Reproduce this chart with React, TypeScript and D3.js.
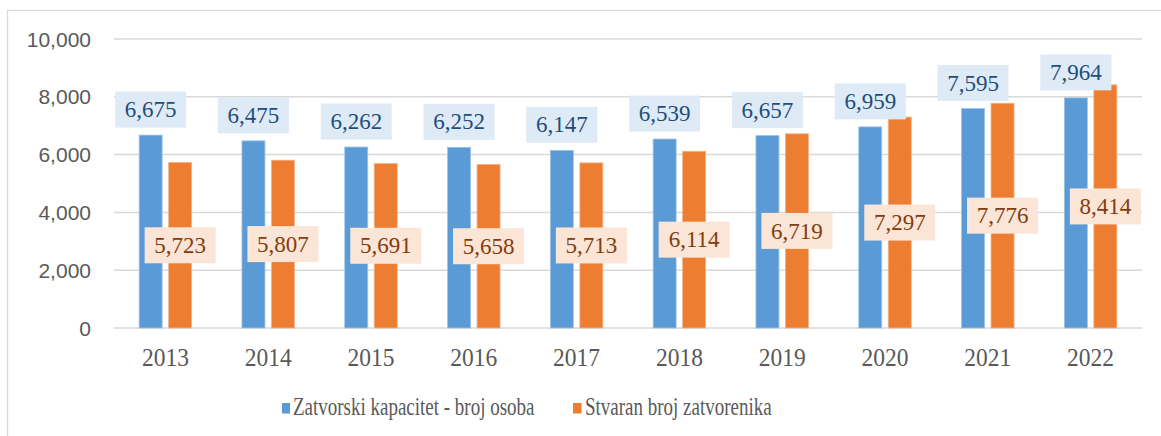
import React from "react";
import * as d3 from "d3";

const years = ["2013", "2014", "2015", "2016", "2017", "2018", "2019", "2020", "2021", "2022"];
const capacity = [6675, 6475, 6262, 6252, 6147, 6539, 6657, 6959, 7595, 7964];
const prisoners = [5723, 5807, 5691, 5658, 5713, 6114, 6719, 7297, 7776, 8414];
const yTicks = [0, 2000, 4000, 6000, 8000, 10000];
const seriesNames = ["Zatvorski kapacitet - broj osoba", "Stvaran broj zatvorenika"];

const W = 1161;
const H = 436;
const left = 114;
const right = 1142;
const top = 39;
const bottom = 328;

export default function App() {
  const x = d3.scaleBand<string>().domain(years).range([left, right]);
  const y = d3.scaleLinear().domain([0, 10000]).range([bottom, top]);
  const barW = 23;
  const gap = 6.5;
  const fmt = d3.format(",");
  const boxW = 71;
  const boxH = 36;
  const blue = "#5B9BD5";
  const orange = "#ED7D31";
  const serif = "'Liberation Serif', 'Times New Roman', serif";

  return (
    <svg
      width={W}
      height={H}
      style={{ position: "absolute", left: 0, top: 0, background: "#fff" }}
    >
      <rect x={7.5} y={10.5} width={1300} height={600} fill="#fff" stroke="#D9D9D9" strokeWidth={1.3} />
      {yTicks.map((t) => (
        <g key={t}>
          <line x1={left} x2={right} y1={y(t)} y2={y(t)} stroke="#D9D9D9" strokeWidth={1.5} />
          <text
            x={91}
            y={y(t)}
            dy="0.36em"
            textAnchor="end"
            fontFamily="'Liberation Sans', Arial, sans-serif"
            fontSize={21}
            fill="#595959"
          >
            {fmt(t)}
          </text>
        </g>
      ))}
      {years.map((yr, i) => {
        const c = (x(yr) as number) + x.bandwidth() / 2;
        const bx = c - gap / 2 - barW;
        const ox = c + gap / 2;
        return (
          <g key={yr}>
            <rect x={bx} y={y(capacity[i])} width={barW} height={y(0) - y(capacity[i])} fill={blue} stroke="#9DC3E6" strokeWidth={0.8} />
            <rect x={ox} y={y(prisoners[i])} width={barW} height={y(0) - y(prisoners[i])} fill={orange} stroke="#F4B183" strokeWidth={0.8} />
            <text
              transform={`translate(${c},366) scale(1,1.08)`}
              textAnchor="middle"
              fontFamily={serif}
              fontSize={23.5}
              fill="#595959"
            >
              {yr}
            </text>
          </g>
        );
      })}
      {years.map((yr, i) => {
        const c = (x(yr) as number) + x.bandwidth() / 2;
        const bc = c - gap / 2 - barW / 2;
        const oc = c + gap / 2 + barW / 2;
        const bBottom = y(capacity[i]) - 7.5;
        const oMid = y(prisoners[i] / 2);
        return (
          <g key={"l" + yr}>
            <rect x={bc - boxW / 2} y={bBottom - boxH} width={boxW} height={boxH} fill="#DEEBF7" />
            <text
              x={bc}
              y={bBottom - boxH / 2}
              dy="0.33em"
              textAnchor="middle"
              fontFamily={serif}
              fontSize={23}
              fill="#1F4E79"
            >
              {fmt(capacity[i])}
            </text>
            <rect x={oc - boxW / 2} y={oMid - boxH / 2} width={boxW} height={boxH} fill="#FBE5D6" />
            <text
              x={oc}
              y={oMid}
              dy="0.33em"
              textAnchor="middle"
              fontFamily={serif}
              fontSize={23}
              fill="#843C0C"
            >
              {fmt(prisoners[i])}
            </text>
          </g>
        );
      })}
      <g>
        <rect x={282} y={403} width={8} height={10.5} fill={blue} />
        <text
          transform="translate(293,415) scale(1,1.32)"
          fontFamily={serif}
          fontSize={19}
          fill="#595959"
        >
          {seriesNames[0]}
        </text>
        <rect x={573} y={403} width={8.5} height={10.5} fill={orange} />
        <text
          transform="translate(585,415) scale(1,1.32)"
          fontFamily={serif}
          fontSize={19}
          fill="#595959"
        >
          {seriesNames[1]}
        </text>
      </g>
    </svg>
  );
}
